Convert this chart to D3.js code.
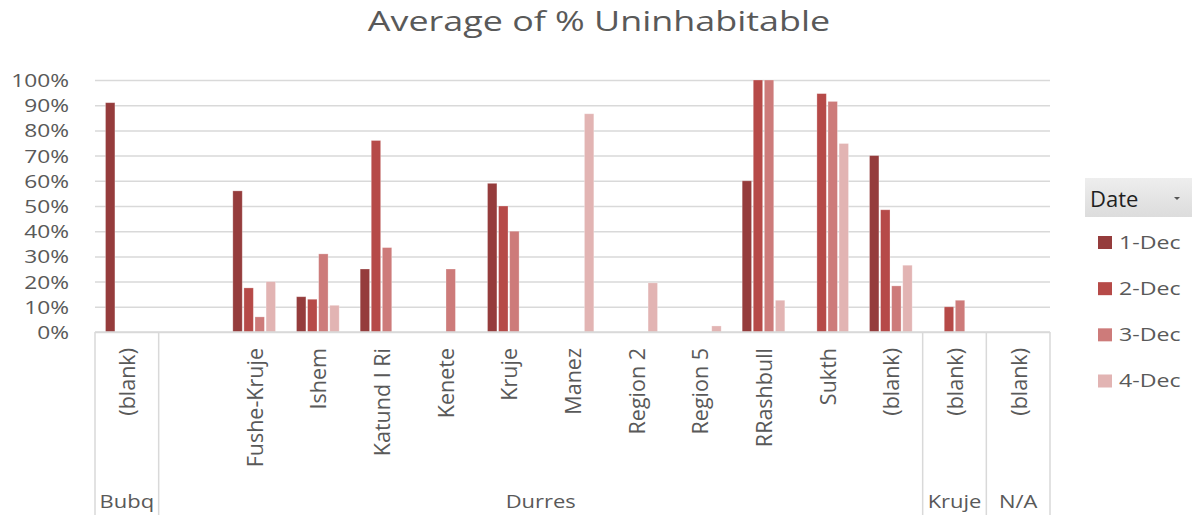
<!DOCTYPE html>
<html>
<head>
<meta charset="utf-8">
<script src="https://cdn.jsdelivr.net/npm/d3@7"></script>
<style>
  body { margin: 0; background: #fff; }
  text { font-family: "Open Sans", sans-serif; }
</style>
</head>
<body>
<div id="canvas"></div>
<script>
// outer / inner category labels
var regions = ["Bubq", "Durres", "Durres", "Durres", "Durres", "Durres", "Durres", "Durres", "Durres", "Durres", "Durres", "Durres", "Durres", "Kruje", "N/A"];
var places = ["(blank)", "", "Fushe-Kruje", "Ishem", "Katund I Ri", "Kenete", "Kruje", "Manez", "Region 2", "Region 5", "RRashbull", "Sukth", "(blank)", "(blank)", "(blank)"];

var seriesNames = ["1-Dec", "2-Dec", "3-Dec", "4-Dec"];
var dec1 = [91, null, 56, 14, 25, null, 59, null, null, null, 60, null, 70, null, null];
var dec2 = [null, null, 17.5, 13, 76, null, 50, null, null, null, 100, 94.6, 48.5, 10, null];
var dec3 = [null, null, 6, 31, 33.5, 25, 40, null, null, null, 100, 91.5, 18.3, 12.6, null];
var dec4 = [null, null, 20, 10.6, null, null, null, 86.6, 19.5, 2.4, 12.6, 74.8, 26.5, null, null];
var yTicks = [0, 10, 20, 30, 40, 50, 60, 70, 80, 90, 100];

var colors = ["#953c3c", "#b64a48", "#cd7b7a", "#e2b4b3"];
var allSeries = [dec1, dec2, dec3, dec4];

(function(){

    var W = 1198, H = 515;
    var left = 95, right = 1050, top = 80, bottom = 332;

    var svg = d3.select("#canvas")
                .append("svg")
                .attr("width", W)
                .attr("height", H);

    // the source font is wider than Open Sans, so stretch it a bit
    function wideText(parent, x, y, sx, size, anchor, fill, str){
        return parent.append("text")
                     .attr("transform", "translate(" + x + "," + y + ") scale(" + sx + ",1)")
                     .attr("text-anchor", anchor)
                     .attr("font-size", size)
                     .attr("fill", fill)
                     .text(str);
    }

    var keys = places.map(function(p, i){ return i; });

    var x = d3.scaleBand().domain(keys).range([left, right]);
    var xs = d3.scaleBand().domain(seriesNames).range([10.5, x.bandwidth() - 10.5]).paddingInner(0.15);
    var y = d3.scaleLinear().domain([0, 100]).range([bottom, top]);

    // title
    wideText(svg, 599, 31, 1.33, 27, "middle", "#595959", "Average of % Uninhabitable");

    // gridlines + y labels
    var yAxis = d3.axisLeft(y)
                  .tickValues(yTicks)
                  .tickSize(-(right - left))
                  .tickFormat(function(d){ return d + "%"; });

    var gy = svg.append("g")
                .attr("transform", "translate(" + left + ",0)")
                .call(yAxis);
    gy.select(".domain").remove();
    gy.selectAll(".tick line")
      .attr("stroke", "#d9d9d9")
      .attr("stroke-width", 1.5);
    gy.selectAll(".tick text").remove();
    for (var t of yTicks) {
        wideText(svg, 69, y(t) + 7, 1.3, 17.5, "end", "#595959", t + "%");
    }

    // bars
    for (var s = 0; s < allSeries.length; s++) {
        var vals = allSeries[s];
        for (var i = 0; i < vals.length; i++) {
            if (vals[i] == null) continue;
            svg.append("rect")
               .attr("x", x(i) + xs(seriesNames[s]))
               .attr("y", y(vals[i]))
               .attr("width", xs.bandwidth())
               .attr("height", y(0) - y(vals[i]))
               .attr("fill", colors[s])
               .attr("stroke", "#fff")
               .attr("stroke-opacity", 0.35)
               .attr("stroke-width", 0.8);
        }
    }

    // category axis
    var axisColor = "#d9d9d9";
    svg.append("line")
       .attr("x1", left).attr("x2", right)
       .attr("y1", bottom).attr("y2", bottom)
       .attr("stroke", axisColor).attr("stroke-width", 1.5);

    var groups = [];
    for (var i = 0; i < regions.length; i++) {
        if (i == 0 || regions[i] != regions[i - 1]) groups.push({name: regions[i], start: i, end: i});
        else groups[groups.length - 1].end = i;
    }

    // separators + outer labels
    svg.append("line")
       .attr("x1", left).attr("x2", left)
       .attr("y1", bottom).attr("y2", H)
       .attr("stroke", axisColor).attr("stroke-width", 1.5);
    for (var g of groups) {
        var gx = x(g.end) + x.bandwidth();
        svg.append("line")
           .attr("x1", gx).attr("x2", gx)
           .attr("y1", bottom).attr("y2", H)
           .attr("stroke", axisColor).attr("stroke-width", 1.5);

        wideText(svg, (x(g.start) + gx) / 2, 508, 1.18, 18.6, "middle", "#595959", g.name);
    }

    // inner labels, rotated
    for (var i = 0; i < places.length; i++) {
        if (!places[i]) continue;
        var cx = x(i) + x.bandwidth() / 2;
        svg.append("text")
           .attr("transform", "translate(" + (cx + 8.5) + ",348) rotate(-90)")
           .attr("text-anchor", "end")
           .attr("font-size", 21.5)
           .attr("fill", "#595959")
           .text(places[i]);
    }

    // legend
    var lg = svg.append("g");
    var grad = svg.append("defs").append("linearGradient")
                  .attr("id", "btn").attr("x1", 0).attr("y1", 0).attr("x2", 0).attr("y2", 1);
    grad.append("stop").attr("offset", "0%").attr("stop-color", "#eeeeee");
    grad.append("stop").attr("offset", "100%").attr("stop-color", "#dcdcdc");

    lg.append("rect")
      .attr("x", 1085).attr("y", 178)
      .attr("width", 107).attr("height", 39)
      .attr("fill", "url(#btn)");
    lg.append("text")
      .attr("x", 1090).attr("y", 207)
      .attr("font-size", 22)
      .attr("fill", "#1f1f1f")
      .text("Date");
    lg.append("path")
      .attr("d", "M1174,197 L1180,197 L1177,200 Z")
      .attr("fill", "#555");

    var ly = d3.scalePoint().domain(seriesNames).range([242.5, 381]);
    for (var s = 0; s < seriesNames.length; s++) {
        lg.append("rect")
          .attr("x", 1098)
          .attr("y", ly(seriesNames[s]) - 6.5)
          .attr("width", 14).attr("height", 13)
          .attr("fill", colors[s]);
        wideText(lg, 1119, ly(seriesNames[s]) + 6, 1.3, 17.8, "start", "#595959", seriesNames[s]);
    }

})();
</script>
</body>
</html>
